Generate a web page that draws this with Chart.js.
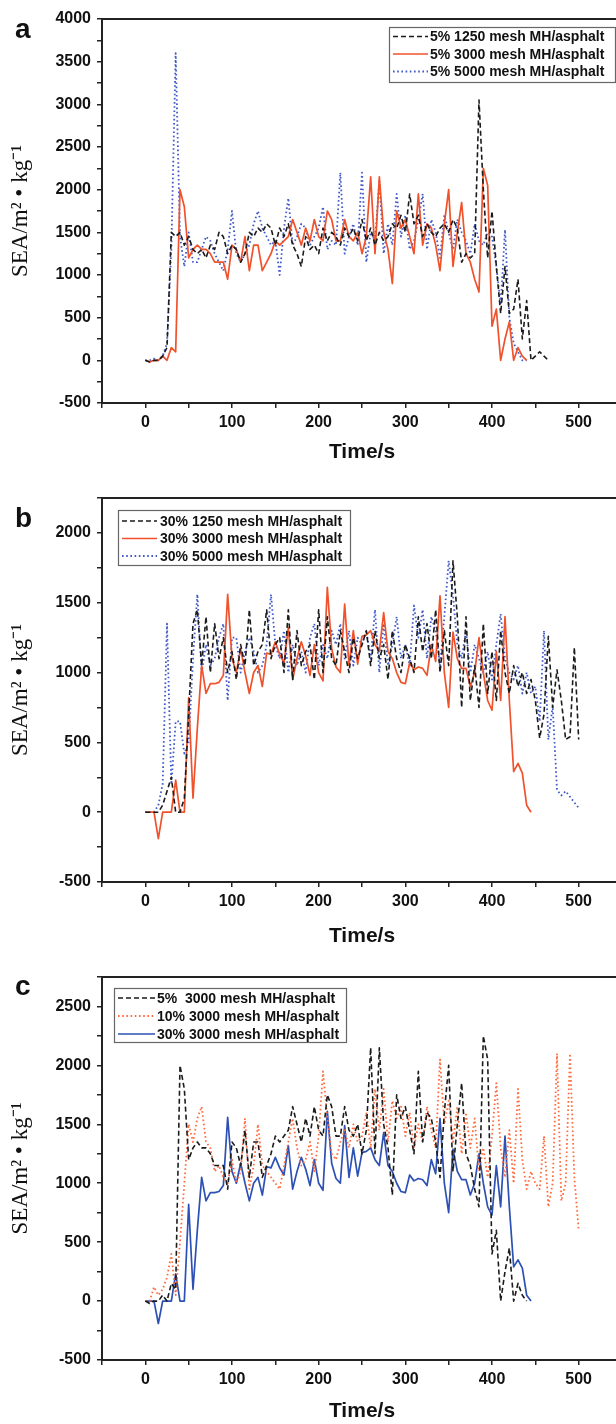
<!DOCTYPE html>
<html>
<head>
<meta charset="utf-8">
<script src="https://cdn.jsdelivr.net/npm/chart.js@4.4.1/dist/chart.umd.min.js"></script>
<style>
  html, body { margin: 0; padding: 0; background: #fff; }
  #wrap { position: relative; width: 616px; height: 1424px; overflow: hidden; }
  canvas { position: absolute; left: 0; }
</style>
</head>
<body>
<div id="wrap">
  <canvas id="chartA" width="640" height="475" style="top:0px"></canvas>
  <canvas id="chartB" width="640" height="475" style="top:475px"></canvas>
  <canvas id="chartC" width="640" height="474" style="top:950px"></canvas>
</div>
<script>
// time axis, one reading every 5 s
const TIME = [
  0, 5, 10, 15, 20, 25, 30, 35, 40, 45,
  50, 55, 60, 65, 70, 75, 80, 85, 90, 95,
  100, 105, 110, 115, 120, 125, 130, 135, 140, 145,
  150, 155, 160, 165, 170, 175, 180, 185, 190, 195,
  200, 205, 210, 215, 220, 225, 230, 235, 240, 245,
  250, 255, 260, 265, 270, 275, 280, 285, 290, 295,
  300, 305, 310, 315, 320, 325, 330, 335, 340, 345,
  350, 355, 360, 365, 370, 375, 380, 385, 390, 395,
  400, 405, 410, 415, 420, 425, 430, 435, 440, 445,
  450, 455, 460, 465, 470, 475, 480, 485, 490, 495,
  500
];

// 5% 1250 mesh MH/asphalt
const sea5_1250 = [
  0, -20, 0, 0, 50, 150, 1500, 1450, 1500, 1350,
  1450, 1300, 1250, 1300, 1200, 1350, 1300, 1500, 1450, 1250,
  1350, 1300, 1150, 1250, 1500, 1450, 1550, 1500, 1600, 1550,
  1350, 1550, 1450, 1600, 1350, 1250, 1100, 1450, 1300, 1350,
  1250, 1550, 1400, 1500, 1450, 1350, 1550, 1450, 1550, 1400,
  1650, 1400, 1550, 1350, 1500, 1400, 1450, 1600, 1550, 1700,
  1500, 1950, 1600, 1700, 1450, 1600, 1500, 1450, 1550, 1600,
  1500, 1650, 1550, 1150, 1250, 1200, 1250, 3050, 2000, 1200,
  1750, 1100, 550, 1100, 550, 600, 950, 250, 700, 0,
  50, 100, 50, 0
];

// 5% 3000 mesh MH/asphalt (panel a and panel c)
const sea5_3000 = [
  0, -20, 0, 0, 50, 0, 150, 100, 2000, 1800,
  1200, 1300, 1350, 1300, 1300, 1250, 1150, 1150, 1150, 950,
  1350, 1300, 1150, 1450, 1050, 1350, 1350, 1050, 1150, 1250,
  1400, 1350, 1400, 1450, 1650, 1500, 1350, 1550, 1400, 1650,
  1450, 1400, 1750, 1650, 1400, 1400, 1650, 1450, 1400, 1500,
  1250, 1450, 2150, 1250, 2150, 1500, 1300, 900, 1750, 1550,
  1650, 1450, 1250, 1950, 1350, 1600, 1550, 1350, 1050, 1600,
  2000, 1100, 1500, 1850, 1250, 1150, 950, 800, 2250, 2050,
  400, 600, 0, 250, 450, 0, 150, 50, 0
];

// 5% 5000 mesh MH/asphalt
const sea5_5000 = [
  0, 0, 20, 0, 50, 200, 1300, 3600, 1450, 1100,
  1500, 1150, 1150, 1300, 1450, 1400, 1250, 1150, 1050, 1300,
  1750, 1250, 1150, 1250, 1350, 1600, 1750, 1550, 1450, 1350,
  1400, 1000, 1550, 1900, 1350, 1450, 1600, 1550, 1350, 1450,
  1550, 1800, 1300, 1400, 1350, 2200, 1250, 1450, 1600, 1350,
  2200, 1150, 1500, 1400, 2100, 1250, 1600, 1350, 1950, 1450,
  1700, 1300, 1400, 1650, 1950, 1300, 1650, 1500, 1200, 1700,
  1500, 1300, 1650, 1500, 1400, 1250, 1600, 1400, 1350, 1500,
  1450, 1100, 650, 1530, 500, 200, 100, 0, 0
];

// 30% 1250 mesh MH/asphalt
const sea30_1250 = [
  0, 0, 0, 0, 50, 150, 250, 0, 0, 100,
  700, 1350, 1450, 1050, 1400, 1000, 1350, 1100, 1250, 1000,
  1150, 950, 1200, 1050, 1450, 1050, 1150, 1200, 1450, 1100,
  1200, 1250, 1000, 1450, 950, 1300, 1050, 1150, 1200, 950,
  1450, 1000, 1400, 1100, 1050, 1300, 1150, 1000, 1250, 1100,
  1200, 1300, 1050, 1300, 1100, 1200, 950, 1300, 1100, 1000,
  1200, 1100, 1000, 1400, 1150, 1350, 1100, 1450, 1000, 1300,
  1050, 1800, 1400, 750, 1400, 800, 1050, 750, 1350, 850,
  1150, 800, 1300, 1000, 850, 1050, 900, 1000, 850, 950,
  800, 530, 700, 1260, 750, 1020, 800, 520, 540, 1180,
  520
];

// 30% 3000 mesh MH/asphalt (panel b and panel c)
const sea30_3000 = [
  0, 0, 0, -190, 0, 0, 0, 230, 0, 0,
  820, 100, 600, 1050, 850, 920, 920, 930, 980, 1560,
  1100, 1000, 1170, 1000, 850, 1000, 1050, 900, 1140, 1130,
  1220, 1130, 1070, 1320, 950, 1100, 1220, 1120, 980, 1200,
  1000, 940, 1610, 1170, 1040, 1000, 1490, 1050, 1300, 1060,
  1260, 1270, 1300, 1200, 1150, 1430, 1150, 1100, 1000, 930,
  920, 1070, 1020, 1040, 1030, 980, 1200, 1080, 1550, 1000,
  750, 1290, 1100, 1030, 1030, 900, 1000, 1250, 1000, 800,
  730, 1150, 800, 1400, 800, 290, 350, 280, 50, 0
];

// 30% 5000 mesh MH/asphalt
const sea30_5000 = [
  0, 0, 0, 50, 200, 1350, 200, 650, 650, 420,
  500, 1100, 1560, 1000, 1200, 1050, 1100, 1250, 1350, 800,
  1250, 1250, 1000, 1150, 1250, 1150, 1000, 1050, 1200, 1560,
  1200, 1100, 1300, 1000, 1200, 1050, 1150, 1000, 1250, 1350,
  1050, 1200, 1100, 1300, 1200, 1350, 1100, 1300, 1050, 1250,
  1200, 1300, 1100, 1450, 1000, 1350, 1050, 1200, 1400, 1100,
  1200, 1050, 1480, 1250, 1450, 1100, 1400, 1300, 1050, 1400,
  1800, 1550, 1200, 1100, 1300, 1000, 1200, 1100, 1000, 1150,
  950, 1200, 1420, 1100, 1000, 950, 1050, 850, 1000, 850,
  900, 650, 1300, 520, 760, 160, 120, 150, 110, 70,
  30
];

// 10% 3000 mesh MH/asphalt
const sea10_3000 = [
  0, 0, 120, 50, 100, 200, 400, 50, 500, 1000,
  1500, 1350, 1550, 1650, 1350, 1300, 1100, 1150, 1050, 1000,
  1200, 1000, 1100, 1550, 950, 1150, 1500, 1150, 1100, 1050,
  1000, 950, 1150, 1350, 1550, 1300, 1150, 1200, 1350, 1100,
  1400, 1950, 1550, 1250, 1200, 1350, 1450, 1300, 1500, 1350,
  1400, 1600, 1300, 1800, 1450, 1800, 1350, 1700, 1550, 1650,
  1400, 1600, 1300, 1500, 1350, 1650, 1450, 1300, 2050, 1500,
  1700, 1350, 1650, 1250, 1600, 1300, 1550, 1100, 1300, 1050,
  1400, 1850, 1300, 1050, 1450, 1000, 1800, 1200, 950, 1100,
  1000, 950, 1400, 800, 1000, 2100, 850, 1000, 2100, 1050,
  600
];

const Y_TITLE = "SEA/m\u00B2 \u2022 kg\u207B\u00B9";
const SANS = '"Liberation Sans", Arial, sans-serif';

const BLACK = "#1b1b1b";
const ORANGE = "#f0522c";
const BLUE_DOT = "#4059c8";
const ORANGE_DOT = "#ff6a3c";
const BLUE = "#2c50b4";

function pts(values) {
  return values.map((v, i) => ({ x: TIME[i], y: v }));
}

function dashed(label, values) {
  return { label, data: pts(values), borderColor: BLACK, borderWidth: 1.6, borderDash: [5, 3] };
}
function solid(label, values, color) {
  return { label, data: pts(values), borderColor: color, borderWidth: 1.7, borderDash: [] };
}
function dotted(label, values, color) {
  return { label, data: pts(values), borderColor: color, borderWidth: 1.8, borderDash: [1.6, 2.6] };
}

// top frame line (the right edge of the frame is cut off by the picture)
const topFrame = {
  id: "topFrame",
  afterDraw(chart) {
    const { ctx, chartArea } = chart;
    ctx.save();
    ctx.strokeStyle = "#222";
    ctx.lineWidth = 2;
    ctx.beginPath();
    ctx.moveTo(chartArea.left - 1, chartArea.top);
    ctx.lineTo(chartArea.right, chartArea.top);
    ctx.stroke();
    ctx.restore();
  }
};

// legend drawn inside a boxed frame like the original figure
const boxLegend = {
  id: "boxLegend",
  afterDraw(chart, args, opts) {
    const ctx = chart.ctx;
    ctx.save();
    ctx.fillStyle = "#fff";
    ctx.fillRect(opts.x, opts.y, opts.w, opts.h);
    ctx.strokeStyle = "#666";
    ctx.lineWidth = 1.2;
    ctx.strokeRect(opts.x + 0.5, opts.y + 0.5, opts.w, opts.h);
    chart.data.datasets.forEach((ds, i) => {
      const yy = opts.y + opts.rowTop + i * opts.rowH;
      ctx.strokeStyle = ds.borderColor;
      ctx.lineWidth = ds.borderWidth;
      ctx.setLineDash(ds.borderDash || []);
      ctx.beginPath();
      ctx.moveTo(opts.x + opts.lineX0, yy);
      ctx.lineTo(opts.x + opts.lineX1, yy);
      ctx.stroke();
      ctx.setLineDash([]);
      ctx.fillStyle = "#111";
      ctx.font = "bold 14px " + SANS;
      ctx.textBaseline = "middle";
      ctx.fillText(ds.label, opts.x + opts.textX, yy + 1);
    });
    ctx.restore();
  }
};

// panel letter (a, b, c)
const panelTag = {
  id: "panelTag",
  afterDraw(chart, args, opts) {
    const ctx = chart.ctx;
    ctx.save();
    ctx.fillStyle = "#111";
    ctx.font = "bold 28px " + SANS;
    ctx.textBaseline = "alphabetic";
    ctx.fillText(opts.text, 15, opts.y);
    ctx.restore();
  }
};

function makeChart(id, datasets, cfg) {
  return new Chart(document.getElementById(id), {
    type: "line",
    data: { datasets },
    options: {
      responsive: false,
      animation: false,
      layout: { padding: { top: cfg.plotTop, right: 18, bottom: 0, left: 0 } },
      elements: {
        point: { radius: 0 },
        line: { tension: 0, borderJoinStyle: "round" }
      },
      plugins: {
        legend: { display: false },
        tooltip: { enabled: false },
        boxLegend: cfg.legend,
        panelTag: { text: cfg.tag, y: cfg.tagY }
      },
      scales: {
        x: {
          type: "linear",
          min: -50,
          max: 550,
          afterFit: (s) => { s.height = cfg.xAxisH; },
          ticks: {
            stepSize: 50,
            autoSkip: false,
            maxRotation: 0,
            padding: 5,
            color: "#111",
            font: { family: SANS, size: 16, weight: "bold" },
            callback: (v) => (v % 100 === 0 && v >= 0 && v <= 500 ? String(v) : "")
          },
          grid: { drawOnChartArea: false, tickLength: 5, color: "#222", lineWidth: 1.5 },
          border: { color: "#222", width: 2 },
          title: {
            display: true,
            text: "Time/s",
            color: "#111",
            font: { family: SANS, size: 21, weight: "bold" },
            padding: { top: 0, bottom: cfg.titlePad }
          }
        },
        y: {
          min: -500,
          max: cfg.yMax,
          afterFit: (s) => { s.width = 102; },
          ticks: {
            stepSize: 250,
            autoSkip: false,
            padding: 6,
            color: "#111",
            font: { family: SANS, size: 16, weight: "bold" },
            callback: (v) => (v % 500 === 0 ? String(v) : "")
          },
          grid: { drawOnChartArea: false, tickLength: 5, color: "#222", lineWidth: 1.5 },
          border: { color: "#222", width: 2 },
          title: {
            display: true,
            text: Y_TITLE,
            color: "#111",
            font: { family: '"Liberation Serif", "Times New Roman", serif', size: 23 },
            padding: { top: 7, bottom: 0 }
          }
        }
      }
    },
    plugins: [topFrame, boxLegend, panelTag]
  });
}

makeChart("chartA", [
  dashed("5% 1250 mesh MH/asphalt", sea5_1250),
  solid("5% 3000 mesh MH/asphalt", sea5_3000, ORANGE),
  dotted("5% 5000 mesh MH/asphalt", sea5_5000, BLUE_DOT)
], {
  plotTop: 19, xAxisH: 72, titlePad: 10, yMax: 4000, tag: "a", tagY: 38,
  legend: { x: 389, y: 27, w: 226, h: 55, rowTop: 9.5, rowH: 17.5, lineX0: 4, lineX1: 39, textX: 41 }
});

makeChart("chartB", [
  dashed("30% 1250 mesh MH/asphalt", sea30_1250),
  solid("30% 3000 mesh MH/asphalt", sea30_3000, ORANGE),
  dotted("30% 5000 mesh MH/asphalt", sea30_5000, BLUE_DOT)
], {
  plotTop: 23, xAxisH: 68, titlePad: 1, yMax: 2250, tag: "b", tagY: 52,
  legend: { x: 118, y: 35, w: 232, h: 55, rowTop: 11, rowH: 17.5, lineX0: 4, lineX1: 39, textX: 42 }
});

makeChart("chartC", [
  dashed("5%  3000 mesh MH/asphalt", sea5_3000),
  dotted("10% 3000 mesh MH/asphalt", sea10_3000, ORANGE_DOT),
  solid("30% 3000 mesh MH/asphalt", sea30_3000, BLUE)
], {
  plotTop: 27, xAxisH: 64, titlePad: 0, yMax: 2750, tag: "c", tagY: 45,
  legend: { x: 114, y: 38, w: 232, h: 54, rowTop: 10, rowH: 18, lineX0: 4, lineX1: 41, textX: 43 }
});
</script>
</body>
</html>
